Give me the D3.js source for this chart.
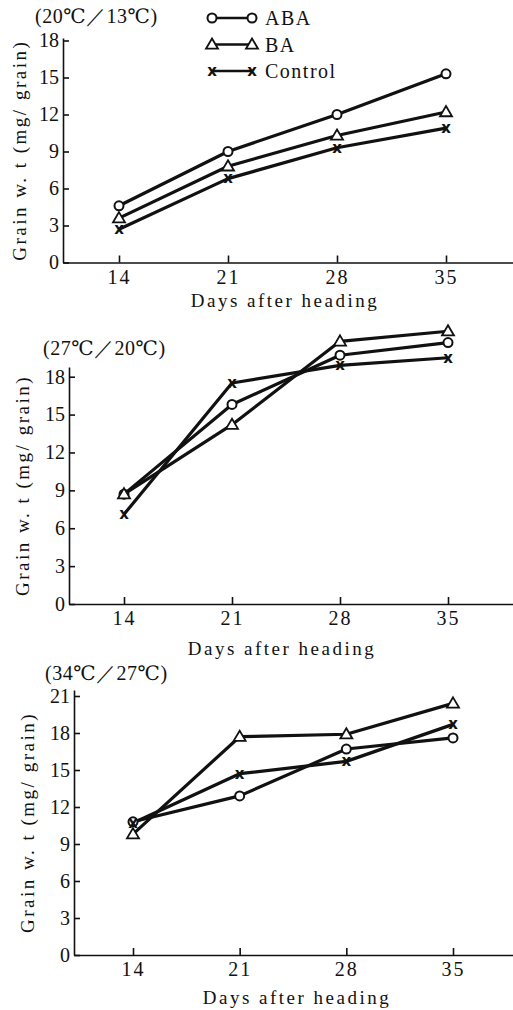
<!DOCTYPE html>
<html lang="en">
<head>
<meta charset="UTF-8">
<title>Grain weight after heading</title>
<script src="https://d3js.org/d3.v7.min.js"></script>
<style>
  body { margin: 0; background: #fff; }
  svg text { font-family: "Liberation Serif", "DejaVu Serif", serif; fill: #111; }
  .axis path, .axis line { stroke: #111; stroke-width: 1.6; }
</style>
</head>
<body>
<div id="chart"></div>
<script>
const days = [14, 21, 28, 35];
const seriesNames = ['ABA', 'BA', 'Control'];
const titles = ['(20\u2103\uFF0F13\u2103)', '(27\u2103\uFF0F20\u2103)', '(34\u2103\uFF0F27\u2103)'];
const yTicksLow = [0, 3, 6, 9, 12, 15, 18];
const yTicksHigh = [0, 3, 6, 9, 12, 15, 18, 21];

// 20/13 C
const aba1 = [4.6, 9.0, 12.0, 15.3];
const ba1 = [3.6, 7.8, 10.3, 12.2];
const control1 = [2.7, 6.8, 9.3, 10.9];
// 27/20 C
const aba2 = [8.7, 15.8, 19.7, 20.7];
const ba2 = [8.7, 14.2, 20.8, 21.6];
const control2 = [7.1, 17.5, 18.9, 19.5];
// 34/27 C
const aba3 = [10.8, 12.9, 16.7, 17.6];
const ba3 = [9.8, 17.7, 17.9, 20.4];
const control3 = [10.7, 14.7, 15.7, 18.7];

const W = 513, H = 1010;
const svg = d3.select('#chart').append('svg').attr('width', W).attr('height', H);

// layout of each panel (pixels)
const panels = [
  { title: titles[0], data: [aba1, ba1, control1], ticks: yTicksLow,
    left: 63, x14: 119, x35: 446, y0: 262.5, yTop: 38, tickTop: 18, yTickTop: 40.5,
    titleX: 35, titleY: 16, xlabX: 285, xlabY: 300, ylabX: 19, legend: true },
  { title: titles[1], data: [aba2, ba2, control2], ticks: yTicksLow,
    left: 69, x14: 124, x35: 448, y0: 604, yTop: 367, tickTop: 18, yTickTop: 376.7,
    titleX: 43, titleY: 348, xlabX: 282, xlabY: 648, ylabX: 22 },
  { title: titles[2], data: [aba3, ba3, control3], ticks: yTicksHigh,
    left: 74, x14: 133, x35: 453, y0: 955, yTop: 690, tickTop: 21, yTickTop: 696,
    titleX: 45, titleY: 673, xlabX: 297, xlabY: 997, ylabX: 27 }
];

function marker(g, type, x, y) {
  if (type === 'ABA') {
    g.append('circle').attr('cx', x).attr('cy', y).attr('r', 4.5)
      .attr('fill', '#fff').attr('stroke', '#111').attr('stroke-width', 2);
  } else if (type === 'BA') {
    const s = 6;
    g.append('path')
      .attr('d', `M${x},${y - s} L${x + s},${y + s * 0.7} L${x - s},${y + s * 0.7} Z`)
      .attr('fill', '#fff').attr('stroke', '#111').attr('stroke-width', 1.8);
  } else {
    g.append('text').attr('x', x).attr('y', y).attr('text-anchor', 'middle')
      .attr('dy', '0.32em').style('font-size', '15px').style('font-weight', 'bold')
      .style('font-family', 'DejaVu Sans, sans-serif').text('x');
  }
}

panels.forEach(p => {
  const g = svg.append('g');
  const per = (p.x35 - p.x14) / 21;
  const x = d3.scaleLinear()
    .domain([14 - (p.x14 - p.left) / per, 14 + (W - p.x14) / per])
    .range([p.left, W]);
  const ppu = (p.y0 - p.yTickTop) / p.tickTop;
  const y = d3.scaleLinear()
    .domain([0, (p.y0 - p.yTop) / ppu])
    .range([p.y0, p.yTop]);

  const xa = g.append('g').attr('class', 'axis')
    .attr('transform', `translate(0,${p.y0})`)
    .call(d3.axisBottom(x).tickValues(days).tickSizeInner(-7).tickSizeOuter(0).tickPadding(5));
  xa.selectAll('text').attr('dy', '0.8em')
    .style('font-size', '20px').style('letter-spacing', '2px')
    .style('font-family', '"Liberation Serif", serif');

  const ya = g.append('g').attr('class', 'axis')
    .attr('transform', `translate(${p.left},0)`)
    .call(d3.axisLeft(y).tickValues(p.ticks).tickSizeInner(-6).tickSizeOuter(0).tickPadding(4));
  ya.selectAll('text')
    .style('font-size', '20px').style('font-family', '"Liberation Serif", serif');

  // series lines
  const line = d3.line().x((d, i) => x(days[i])).y(d => y(d));
  p.data.forEach(vals => {
    g.append('path').datum(vals).attr('d', line)
      .attr('fill', 'none').attr('stroke', '#111').attr('stroke-width', 3.2)
      .attr('stroke-linejoin', 'round');
  });
  p.data.forEach((vals, k) => {
    vals.forEach((v, i) => marker(g, seriesNames[k], x(days[i]), y(v)));
  });

  g.append('text').attr('x', p.titleX).attr('y', p.titleY).attr('dy', '0.35em')
    .style('font-size', '20px').style('letter-spacing', '0.5px').text(p.title);

  g.append('text').attr('x', p.xlabX).attr('y', p.xlabY).attr('dy', '0.35em')
    .attr('text-anchor', 'middle').style('font-size', '19px').style('letter-spacing', '2.5px')
    .text('Days after heading');

  g.append('text')
    .attr('transform', `translate(${p.ylabX},${(p.y0 + p.yTop) / 2}) rotate(-90)`)
    .attr('dy', '0.35em').attr('text-anchor', 'middle')
    .style('font-size', '19px').style('letter-spacing', '2.5px')
    .text('Grain w. t (mg/ grain)');

  if (p.legend) {
    const lg = g.append('g');
    seriesNames.forEach((name, k) => {
      const ly = 18 + k * 26.5;
      lg.append('line').attr('x1', 212).attr('x2', 252).attr('y1', ly).attr('y2', ly)
        .attr('stroke', '#111').attr('stroke-width', 2.6);
      marker(lg, name, 212, ly);
      marker(lg, name, 252, ly);
      lg.append('text').attr('x', 265).attr('y', ly).attr('dy', '0.35em')
        .style('font-size', '20px').style('letter-spacing', '1.5px').text(name);
    });
  }
});
</script>
</body>
</html>
